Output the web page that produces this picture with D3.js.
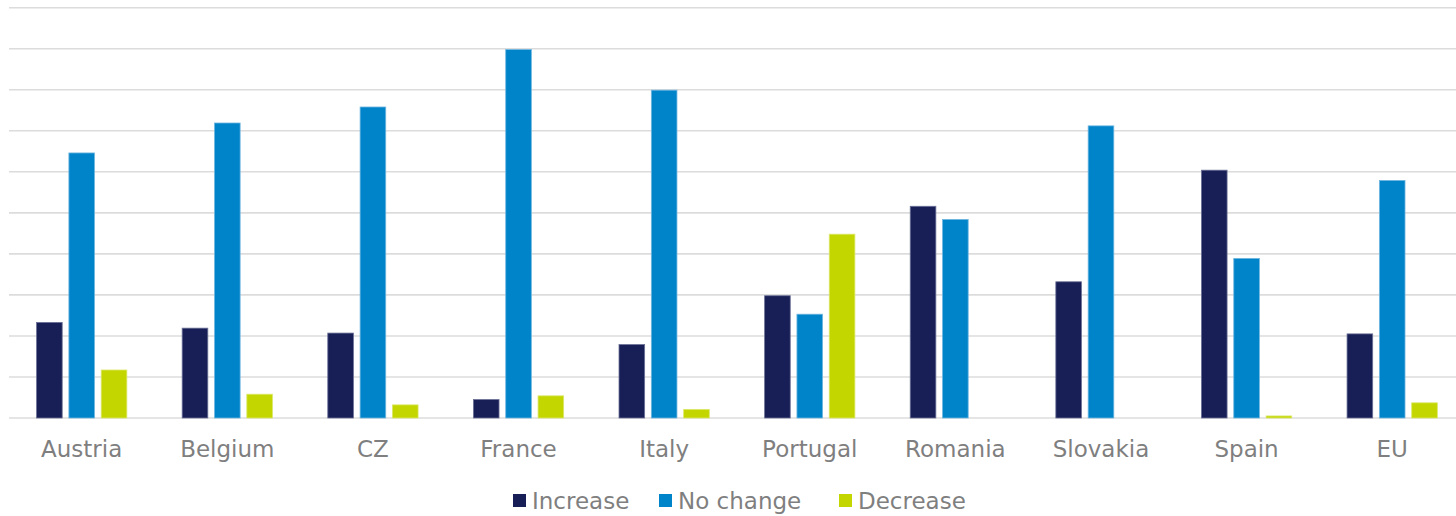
<!DOCTYPE html>
<html>
<head>
<meta charset="utf-8">
<script src="https://cdn.jsdelivr.net/npm/d3@7"></script>
<style>
  html, body { margin: 0; padding: 0; background: #ffffff; }
  svg { display: block; }
  text { font-family: "DejaVu Sans", sans-serif; fill: #7f7f7f; }
</style>
</head>
<body>
<svg id="chart" width="1456" height="516"></svg>
<script>
// Share of responses per country (%)
const categories = ["Austria", "Belgium", "CZ", "France", "Italy", "Portugal", "Romania", "Slovakia", "Spain", "EU"];
const seriesNames = ["Increase", "No change", "Decrease"];
const increase = [23.3, 21.9, 20.7, 4.5, 17.9, 29.8, 51.6, 33.2, 60.4, 20.5];
const noChange = [64.6, 71.9, 75.8, 89.8, 79.9, 25.3, 48.4, 71.2, 38.9, 57.9];
const decrease = [11.7, 5.8, 3.2, 5.4, 2.1, 44.8, 0, 0, 0.5, 3.7];
const yTicks = [0, 10, 20, 30, 40, 50, 60, 70, 80, 90, 100];
const colors = ["#171f56", "#0084c9", "#c4d600"];
const strokes = ["#6b7096", "#6fb6e0", "#dbe76a"];

const values = [increase, noChange, decrease];
const rows = categories.map((c, i) => ({
  category: c,
  items: seriesNames.map((s, k) => ({ series: s, value: values[k][i], k }))
}));

const svg = d3.select("#chart");

const x0 = d3.scaleBand()
  .domain(categories)
  .range([8.9, 1465])
  .paddingInner(0.38)
  .paddingOuter(0.19);

const x1 = d3.scaleBand()
  .domain(seriesNames)
  .range([0, x0.bandwidth()])
  .paddingInner(0.207)
  .paddingOuter(0);

const y = d3.scaleLinear().domain([0, 100]).range([418, 7.7]);

// Horizontal gridlines
svg.append("g")
  .selectAll("line")
  .data(yTicks)
  .join("line")
  .attr("x1", 9)
  .attr("x2", 1456)
  .attr("y1", d => y(d))
  .attr("y2", d => y(d))
  .attr("stroke", "#dcdcdc")
  .attr("stroke-width", 1.6);

// Grouped bars
const groups = svg.append("g")
  .selectAll("g")
  .data(rows)
  .join("g")
  .attr("transform", d => `translate(${x0(d.category)},0)`);

groups.selectAll("rect")
  .data(d => d.items.filter(it => it.value > 0))
  .join("rect")
  .attr("x", d => x1(d.series))
  .attr("y", d => y(d.value))
  .attr("width", x1.bandwidth())
  .attr("height", d => y(0) - y(d.value))
  .attr("fill", d => colors[d.k])
  .attr("stroke", d => strokes[d.k])
  .attr("stroke-width", 0.8);

// Category labels
svg.append("g")
  .selectAll("text")
  .data(categories)
  .join("text")
  .attr("x", d => x0(d) + x0.bandwidth() / 2)
  .attr("y", 457)
  .attr("text-anchor", "middle")
  .style("font-size", "23px")
  .text(d => d);

// Legend
const legendX = [513, 659, 839];
const legend = svg.append("g")
  .selectAll("g")
  .data(seriesNames)
  .join("g")
  .attr("transform", (d, i) => `translate(${legendX[i]},0)`);

legend.append("rect")
  .attr("x", 0)
  .attr("y", 494)
  .attr("width", 13)
  .attr("height", 13)
  .attr("fill", (d, i) => colors[i]);

legend.append("text")
  .attr("x", 19)
  .attr("y", 509)
  .style("font-size", "23px")
  .text(d => d);
</script>
</body>
</html>
